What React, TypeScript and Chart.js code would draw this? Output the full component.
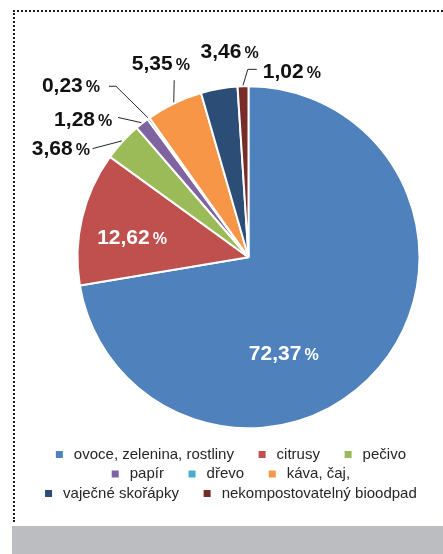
import React, { useEffect, useRef } from 'react';
import { Chart, registerables } from 'chart.js';

Chart.register(...registerables);

// ---- data ----
const CATEGORIES = [
  'ovoce, zelenina, rostliny',
  'citrusy',
  'pečivo',
  'papír',
  'dřevo',
  'káva, čaj,',
  'vaječné skořápky',
  'nekompostovatelný bioodpad',
];
const SHARES = [72.37, 12.62, 3.68, 1.28, 0.23, 5.35, 3.46, 1.02];
const COLORS = ['#4F81BD', '#C0504D', '#9BBB59', '#8064A2', '#4BACC6', '#F79646', '#2C4D75', '#772C2A'];

// ---- label layout (relative to each slice's outer edge midpoint, or to pie centre in radius units) ----
type Lay = { inside?: boolean; fx?: number; fy?: number; dx?: number; dy?: number; align?: 'left' | 'right' | 'center'; line?: number[][] };
const LABEL_LAYOUT: Lay[] = [
  { inside: true, fx: 0.206, fy: 0.558 },
  { inside: true, fx: -0.681, fy: -0.12 },
  { dx: -32.6, dy: 5.8, align: 'right', line: [[-30, 7]] },
  { dx: -29.8, dy: -4.7, align: 'right', line: [[-24, -6]] },
  { dx: -48.5, dy: -33.8, align: 'right', line: [[-32.5, -32.3], [-39.5, -32.3]] },
  { dx: -13.3, dy: -40.4, align: 'center', line: [[0, -23]] },
  { dx: 10.5, dy: -38.6, align: 'center', line: [] },
  { dx: 19.8, dy: -16, align: 'left', line: [[4.8, -17], [13.8, -17]] },
];

const PIE_SHIFT = 11;
const FONT = '"Liberation Sans", Arial, sans-serif';

const formatShare = (v: number) => v.toFixed(2).replace('.', ',');

const pieShift = {
  id: 'pieShift',
  afterLayout(chart: any) {
    const a = chart.chartArea;
    a.left += PIE_SHIFT * 2;
    a.width = a.right - a.left;
  },
};

const sliceLabels = {
  id: 'sliceLabels',
  afterDatasetsDraw(chart: any) {
    const ctx = chart.ctx as CanvasRenderingContext2D;
    const meta = chart.getDatasetMeta(0);
    const numSize = 21;
    const numFont = `bold ${numSize}px ${FONT}`;
    const pctFont = `bold 16px ${FONT}`;
    meta.data.forEach((arc: any, i: number) => {
      const { x, y, startAngle, endAngle, outerRadius } = arc.getProps(
        ['x', 'y', 'startAngle', 'endAngle', 'outerRadius'],
        true
      );
      const mid = (startAngle + endAngle) / 2;
      const cos = Math.cos(mid);
      const sin = Math.sin(mid);
      const ox = x + outerRadius * cos;
      const oy = y + outerRadius * sin;
      const lay = LABEL_LAYOUT[i];
      const num = formatShare(SHARES[i]);
      ctx.save();
      ctx.font = numFont;
      const wn = ctx.measureText(num).width;
      ctx.font = pctFont;
      const wp = ctx.measureText('%').width;
      const gap = 3;
      const total = wn + gap + wp;
      let ax: number;
      let ay: number;
      if (lay.inside) {
        ax = x + (lay.fx as number) * outerRadius;
        ay = y + (lay.fy as number) * outerRadius;
      } else {
        ax = ox + (lay.dx as number);
        ay = oy + (lay.dy as number);
        if (lay.line && lay.line.length) {
          ctx.strokeStyle = '#262626';
          ctx.lineWidth = 1;
          ctx.beginPath();
          ctx.moveTo(x + (outerRadius + 1) * cos, y + (outerRadius + 1) * sin);
          lay.line.forEach(([lx, ly]) => ctx.lineTo(ox + lx, oy + ly));
          ctx.stroke();
        }
      }
      const align = lay.align || 'center';
      const left = align === 'right' ? ax - total : align === 'left' ? ax : ax - total / 2;
      const base = ay + 0.358 * numSize;
      ctx.fillStyle = lay.inside ? '#ffffff' : '#111111';
      ctx.textAlign = 'left';
      ctx.textBaseline = 'alphabetic';
      ctx.font = numFont;
      ctx.fillText(num, left, base);
      ctx.font = pctFont;
      ctx.fillText('%', left + wn + gap, base);
      ctx.restore();
    });
  },
};

export default function App() {
  const ref = useRef<HTMLCanvasElement>(null);
  useEffect(() => {
    const canvas = ref.current;
    if (!canvas) return;
    const chart = new Chart(canvas, {
      type: 'pie',
      data: {
        labels: CATEGORIES,
        datasets: [
          {
            data: SHARES,
            backgroundColor: COLORS,
            borderColor: '#ffffff',
            borderWidth: 2,
            radius: 171,
            clip: false,
          } as any,
        ],
      },
      options: {
        responsive: false,
        animation: false,
        events: [],
        layout: { padding: { top: 60, left: 17, right: 0, bottom: 0 } },
        plugins: {
          tooltip: { enabled: false },
          legend: {
            position: 'bottom',
            align: 'center',
            labels: {
              font: { size: 15, family: FONT },
              color: '#262626',
              boxWidth: 14,
              boxHeight: 14,
              padding: 4.5,
              generateLabels(ch: any) {
                const base = (Chart as any).overrides.doughnut.plugins.legend.labels.generateLabels(ch);
                return base.map((it: any) => ({
                  ...it,
                  text: it.text + '\u00a0\u00a0\u00a0\u00a0',
                  strokeStyle: '#ffffff',
                  lineWidth: 7,
                }));
              },
            },
          },
        },
      },
      plugins: [pieShift, sliceLabels],
    });
    return () => chart.destroy();
  }, []);

  return (
    <div>
      <div
        style={{
          position: 'absolute',
          left: 13,
          top: 10,
          width: 430,
          height: 512,
          boxSizing: 'border-box',
          borderTop: '2px dotted #1a1a1a',
          borderLeft: '2px dotted #1a1a1a',
        }}
      />
      <div
        style={{
          position: 'absolute',
          left: 12,
          top: 526,
          width: 431,
          height: 28,
          background: '#bcbdc0',
        }}
      />
      <canvas
        ref={ref}
        width={428}
        height={499}
        style={{ position: 'absolute', left: 15, top: 12, display: 'block' }}
      />
    </div>
  );
}
